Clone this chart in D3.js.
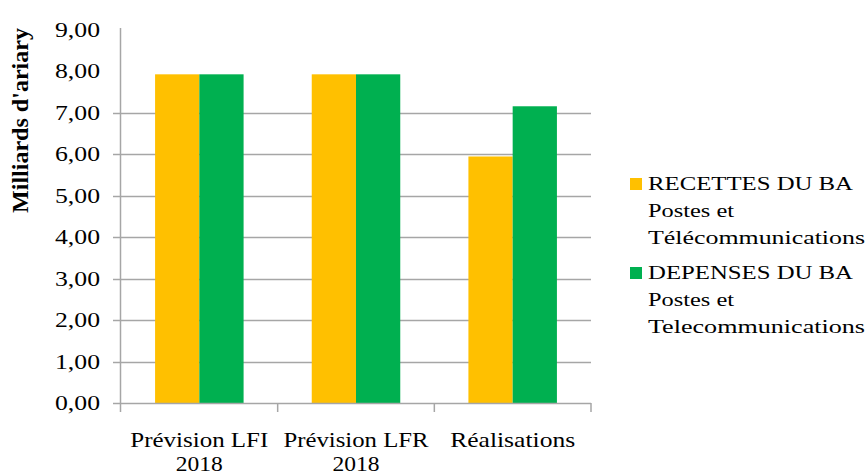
<!DOCTYPE html>
<html>
<head>
<meta charset="utf-8">
<script src="https://cdn.jsdelivr.net/npm/d3@7"></script>
<style>
  html, body { margin: 0; padding: 0; background: #fff; }
  svg { display: block; }
</style>
</head>
<body>
<svg id="chart" width="867" height="473" font-family="'Liberation Serif', 'Times New Roman', Times, serif"></svg>
<script>
// Budget annexe Postes et Télécommunications, 2018 (milliards d'ariary)
const categories = [["Prévision LFI", "2018"], ["Prévision LFR", "2018"], ["Réalisations"]];
const categoryKeys = ["Prévision LFI 2018", "Prévision LFR 2018", "Réalisations"];
const seriesNames = [
  ["RECETTES DU BA", "Postes et", "Télécommunications"],
  ["DEPENSES DU BA", "Postes et", "Telecommunications"]
];
const recettes = [7.92, 7.92, 5.94];
const depenses = [7.92, 7.92, 7.15];
const yTicks = [0, 1, 2, 3, 4, 5, 6, 7, 8, 9];
const gridValues = [1, 2, 3, 4, 5, 6, 7];
const colors = ["#FFC000", "#00B050"];

const svg = d3.select("#chart");
const fmt = v => v.toFixed(2).replace(".", ",");

const y = d3.scaleLinear().domain([0, 9]).range([403, 29.5]);
const x = d3.scaleBand().domain(categoryKeys).range([121, 591]).paddingInner(0).paddingOuter(0);
const xSub = d3.scaleBand().domain([0, 1]).range([0, x.bandwidth()]).paddingInner(0).paddingOuter(0.77);

const series = [recettes, depenses];

// horizontal gridlines
svg.append("g").selectAll("line").data(gridValues).join("line")
  .attr("x1", 113).attr("x2", 591)
  .attr("y1", d => Math.round(y(d)) + 0.5).attr("y2", d => Math.round(y(d)) + 0.5)
  .attr("stroke", "#a6a6a6").attr("stroke-width", 1.5);

// bars
const groups = svg.append("g").selectAll("g").data(categoryKeys).join("g")
  .attr("transform", d => `translate(${x(d)},0)`);
groups.selectAll("rect")
  .data((d, i) => series.map((s, k) => ({ k, v: s[i] })))
  .join("rect")
  .attr("x", d => xSub(d.k))
  .attr("width", xSub.bandwidth())
  .attr("y", d => y(d.v))
  .attr("height", d => y(0) - y(d.v))
  .attr("fill", d => colors[d.k]);

// axis lines and category tick marks
const axisG = svg.append("g").attr("stroke", "#a6a6a6").attr("stroke-width", 1.5);
axisG.append("line").attr("x1", 120.5).attr("x2", 120.5).attr("y1", 28).attr("y2", 412);
axisG.append("line").attr("x1", 113).attr("x2", 591).attr("y1", Math.round(y(0)) + 0.5).attr("y2", Math.round(y(0)) + 0.5);
const boundaries = categoryKeys.map(c => x(c)).concat([x.range()[1]]);
axisG.selectAll("line.tick").data(boundaries.slice(1)).join("line")
  .attr("class", "tick")
  .attr("x1", d => d).attr("x2", d => d)
  .attr("y1", Math.round(y(0))).attr("y2", 412);

// y tick labels
svg.append("g").selectAll("text").data(yTicks).join("text")
  .attr("x", 100).attr("y", d => y(d) + 7)
  .attr("text-anchor", "end")
  .attr("font-size", 21)
  .attr("textLength", 45).attr("lengthAdjust", "spacingAndGlyphs")
  .text(fmt);

// y axis title
svg.append("text")
  .attr("transform", "translate(28,120.5) rotate(-90)")
  .attr("text-anchor", "middle")
  .attr("font-size", 23).attr("font-weight", "bold")
  .attr("textLength", 185).attr("lengthAdjust", "spacingAndGlyphs")
  .text("Milliards d'ariary");

// category labels
const labelWidths = [[138, 47], [145, 47], [125]];
categories.forEach((lines, i) => {
  const cx = x(categoryKeys[i]) + x.bandwidth() / 2;
  lines.forEach((t, j) => {
    svg.append("text")
      .attr("x", cx).attr("y", 447 + j * 24)
      .attr("text-anchor", "middle")
      .attr("font-size", 22)
      .attr("textLength", labelWidths[i][j]).attr("lengthAdjust", "spacingAndGlyphs")
      .text(t);
  });
});

// legend
const legendTop = [178, 267];
const legendWidths = [[205, 86, 217], [205, 86, 217]];
seriesNames.forEach((lines, k) => {
  svg.append("rect").attr("x", 630).attr("y", legendTop[k]).attr("width", 12).attr("height", 12)
    .attr("fill", colors[k]);
  lines.forEach((t, j) => {
    svg.append("text")
      .attr("x", 648).attr("y", legendTop[k] + 12 + j * 27)
      .attr("font-size", 19)
      .attr("textLength", legendWidths[k][j]).attr("lengthAdjust", "spacingAndGlyphs")
      .text(t);
  });
});
</script>
</body>
</html>
